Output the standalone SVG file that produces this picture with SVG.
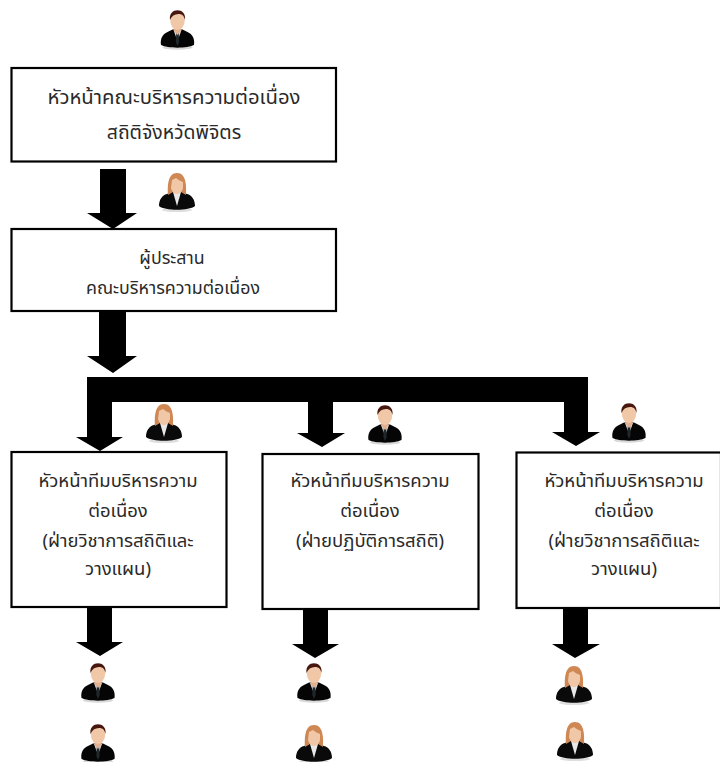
<svg xmlns="http://www.w3.org/2000/svg" width="720" height="762" viewBox="0 0 720 762">
<style>
.box{fill:#fff;stroke:#000;stroke-width:2.200}
.t{font-family:"Noto Sans Thai","Noto Sans","DejaVu Sans",sans-serif;font-size:18.500px;fill:#2a2a2a;text-anchor:middle}
.l{font-size:20.300px}
.k{font-size:19.400px}
.m{font-size:17.800px}
.a{fill:#000}
</style>
<defs>
<g id="man">
<ellipse cx="0" cy="37.500" rx="15" ry="2.200" fill="#d8d8d8"/>
<path d="M-16.500 35C-17.500 29-15 24-10 22L-5 19.500L5 19.500L10 22C15 24 17.500 29 16.500 35C10 38.500-10 38.500-16.500 35Z" fill="#050505"/>
<path d="M-4 20L0 31L4 20Z" fill="#dcdcdc"/>
<path d="M-1.200 23L1.200 23L1.700 32L0 36L-1.700 32Z" fill="#20282c"/>
<path d="M-3.500 15H3.500V21L0 25L-3.500 21Z" fill="#e0b090"/>
<ellipse cx="0" cy="10.500" rx="7.200" ry="9.500" fill="#f0c8a8"/>
<path d="M-7.500 10C-9.500-3 9.500-3 7.500 10C6.500 6 5 4 1 4C-3 4-6 6-7.500 10Z" fill="#47170f"/>
</g>
<g id="woman">
<ellipse cx="0" cy="37" rx="15" ry="2" fill="#dedede"/>
<path d="M-18 33C-18 27-15 22-10 21L-5 19L5 19L10 21C15 22 18 27 18 33C12 38-12 38-18 33Z" fill="#0a0a0a"/>
<path d="M-4 19L0 33L4 19Z" fill="#e8e8e8"/>
<path d="M-9 22C-9.500 14-9.500 0 0 0C9.500 0 9.500 14 9 22L4 19L-4 19Z" fill="#cf8754"/>
<path d="M-5 7L-1 5C1 7 4 8 6 9V15C5 19 2 21 0 21C-2 21-5 19-6 15Z" fill="#f0c8a8"/>
</g>
</defs>
<rect width="720" height="762" fill="#fff"/>
<g id="n1"><rect class="box" x="11.500" y="68" width="324.500" height="93.500"/><text class="t l" x="174" y="104">หัวหน้าคณะบริหารความต่อเนื่อง</text><text class="t k" x="174" y="139">สถิติจังหวัดพิจิตร</text></g>
<g id="n2"><rect class="box" x="11.500" y="229" width="324.500" height="82"/><text class="t m" x="172" y="264">ผู้ประสาน</text><text class="t m" x="173" y="294">คณะบริหารความต่อเนื่อง</text></g>
<g id="n3"><rect class="box" x="11.500" y="452" width="215" height="155"/><text class="t" x="118" y="487">หัวหน้าทีมบริหารความ</text><text class="t" x="118" y="517">ต่อเนื่อง</text><text class="t" x="118" y="547">(ฝ่ายวิชาการสถิติและ</text><text class="t" x="118" y="575">วางแผน)</text></g>
<g id="n4"><rect class="box" x="262.500" y="454" width="216" height="155"/><text class="t" x="370" y="487">หัวหน้าทีมบริหารความ</text><text class="t" x="370" y="517">ต่อเนื่อง</text><text class="t" x="370" y="547">(ฝ่ายปฏิบัติการสถิติ)</text></g>
<g id="n5"><rect class="box" x="516.500" y="452.500" width="204.500" height="155.500"/><text class="t" x="624" y="487">หัวหน้าทีมบริหารความ</text><text class="t" x="624" y="517">ต่อเนื่อง</text><text class="t" x="624" y="547">(ฝ่ายวิชาการสถิติและ</text><text class="t" x="624" y="575">วางแผน)</text></g>
<g id="connectors">
<path class="a" d="M100 169H126V213H137L113 229L87 213H100Z"/>
<path class="a" d="M99 311H126V356H137L113 373L87 356H99Z"/>
<path class="a" d="M87 377H588V402H87Z"/>
<path class="a" d="M87 402H112V437H123L100 451L76 437H87Z"/>
<path class="a" d="M308 402H333V433H345L322 447L297 433H308Z"/>
<path class="a" d="M564 402H588V432H600L576 446L552 432H564Z"/>
<path class="a" d="M87 607H112V642H123L100 656L76 642H87Z"/>
<path class="a" d="M303 609H328V644H339L315 658L292 644H303Z"/>
<path class="a" d="M563 608H588V644H600L575 658L552 644H563Z"/>
</g>
<g id="p1"><use href="#man" x="177.500" y="10"/></g>
<g id="p2"><use href="#woman" x="177" y="173"/></g>
<g id="p3"><use href="#woman" x="164" y="404"/></g>
<g id="p4"><use href="#man" x="385" y="405"/></g>
<g id="p5"><use href="#man" x="629" y="403"/></g>
<g id="p6"><use href="#man" x="98" y="663"/></g>
<g id="p7"><use href="#man" x="98" y="724"/></g>
<g id="p8"><use href="#man" x="314" y="663"/></g>
<g id="p9"><use href="#woman" x="314" y="725"/></g>
<g id="p10"><use href="#woman" x="574" y="666"/></g>
<g id="p11"><use href="#woman" x="575" y="722"/></g>
</svg>
